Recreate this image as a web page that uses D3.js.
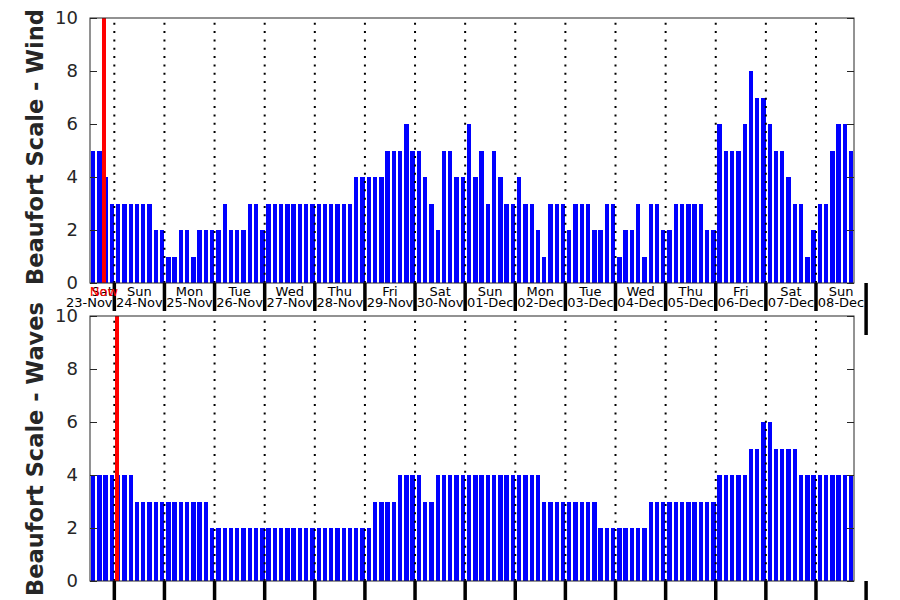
<!DOCTYPE html>
<html><head><meta charset="utf-8">
<script src="https://cdn.jsdelivr.net/npm/d3@7"></script>
<style>body{margin:0;background:#fff} svg{display:block}</style>
</head><body>
<svg id="chart" width="900" height="600"></svg>
<script>
// ---- data (3-hourly Beaufort values) ----
const windValues = [
  5,5,4,3,
  3,3,3,3,3,3,2,2,
  1,1,2,2,1,2,2,2,
  2,3,2,2,2,3,3,2,
  3,3,3,3,3,3,3,3,
  3,3,3,3,3,3,4,4,
  4,4,4,5,5,5,6,5,
  5,4,3,2,5,5,4,4,
  6,4,5,3,5,4,3,3,
  4,3,3,2,1,3,3,3,
  2,3,3,3,2,2,3,3,
  1,2,2,3,1,3,3,2,
  2,3,3,3,3,3,2,2,
  6,5,5,5,6,8,7,7,
  6,5,5,4,3,3,1,2,
  3,3,5,6,6,5
];
const waveValues = [
  4,4,4,4,
  4,4,4,3,3,3,3,3,
  3,3,3,3,3,3,3,2,
  2,2,2,2,2,2,2,2,
  2,2,2,2,2,2,2,2,
  2,2,2,2,2,2,2,2,
  2,3,3,3,3,4,4,4,
  4,3,3,4,4,4,4,4,
  4,4,4,4,4,4,4,4,
  4,4,4,4,3,3,3,3,
  3,3,3,3,3,2,2,2,
  2,2,2,2,2,3,3,3,
  3,3,3,3,3,3,3,3,
  4,4,4,4,4,5,5,6,
  6,5,5,5,5,4,4,4,
  4,4,4,4,4,4
];
const yTicks = [0, 2, 4, 6, 8, 10];
const yLabels = ["Beaufort Scale - Wind", "Beaufort Scale - Waves"];
const firstBarTime = new Date(Date.UTC(2019, 10, 23, 13, 52));
const stepHours = 3;
const nowTimes = [new Date(Date.UTC(2019, 10, 23, 19, 3)), new Date(Date.UTC(2019, 10, 24, 1, 17))];
const nowLabel = "Now";
const labelDays = d3.utcDays(new Date(Date.UTC(2019, 10, 23)), new Date(Date.UTC(2019, 11, 9)));   // Sat 23-Nov .. Sun 08-Dec
const midnights = d3.utcDays(new Date(Date.UTC(2019, 10, 24)), new Date(Date.UTC(2019, 11, 9)));   // 24-Nov .. 08-Dec
const lastTick = new Date(Date.UTC(2019, 11, 9));

// ---- layout ----
const svg = d3.select("#chart");
const left = 90, right = 854;
const x = d3.scaleUtc()
  .domain([new Date(Date.UTC(2019, 10, 24)), new Date(Date.UTC(2019, 11, 9))])
  .range([114.33, 866.1]);
const panels = [
  {values: waveValues, top: 316, bottom: 581, label: yLabels[1], labels: false, tickLen: 25, lastLen: 25, labelY: 449},
  {values: windValues, top: 18, bottom: 283, label: yLabels[0], labels: true, tickLen: 28, lastLen: 52, labelY: 147}
];
const fmtDay = d3.utcFormat("%a"), fmtDate = d3.utcFormat("%d-%b");
const axisColor = "#262626";

panels.forEach((p, pi) => {
  const nowT = p.labels ? nowTimes[0] : nowTimes[1];
  const y = d3.scaleLinear().domain([0, 10]).range([p.bottom, p.top]);
  const g = svg.append("g");
  const clipId = "clip" + pi;
  svg.append("clipPath").attr("id", clipId).append("rect")
    .attr("x", left).attr("y", p.top).attr("width", right - left).attr("height", p.bottom - p.top);

  const data = p.values.map((v, i) => ({t: d3.utcHour.offset(firstBarTime, stepHours * i), v}));
  const plot = g.append("g").attr("clip-path", `url(#${clipId})`);
  plot.selectAll("rect.bar").data(data).join("rect").attr("class", "bar")
    .attr("x", d => x(d.t) - 2.2).attr("width", 4.4)
    .attr("y", d => y(d.v)).attr("height", d => y(0) - y(d.v))
    .attr("fill", "#0000ff").attr("shape-rendering", "crispEdges");

  // dotted day separators
  plot.selectAll("line.sep").data(midnights).join("line").attr("class", "sep")
    .attr("x1", d => x(d)).attr("x2", d => x(d))
    .attr("y1", p.bottom).attr("y2", p.top)
    .attr("stroke", "#000").attr("stroke-width", 2).attr("stroke-dasharray", "2,6.33");

  // now line
  g.append("line")
    .attr("x1", x(nowT)).attr("x2", x(nowT))
    .attr("y1", p.top).attr("y2", p.bottom)
    .attr("stroke", "#ff0000").attr("stroke-width", 4);

  // box
  g.append("rect").attr("x", left).attr("y", p.top).attr("width", right - left).attr("height", p.bottom - p.top)
    .attr("fill", "none").attr("stroke", axisColor).attr("stroke-width", 1);

  // y axes (left labels, inward ticks both sides)
  const yAxisL = d3.axisLeft(y).tickValues(yTicks).tickSize(-7).tickPadding(12);
  const gl = g.append("g").attr("transform", `translate(${left},0)`).call(yAxisL);
  gl.select(".domain").remove();
  gl.selectAll("line").attr("stroke", axisColor);
  gl.selectAll("text").attr("font-family", "DejaVu Sans").attr("font-size", 18).attr("fill", axisColor)
    .attr("x", -12);
  const yAxisR = d3.axisRight(y).tickValues(yTicks).tickSize(-7).tickFormat("");
  const gr = g.append("g").attr("transform", `translate(${right},0)`).call(yAxisR);
  gr.select(".domain").remove();
  gr.selectAll("line").attr("stroke", axisColor);

  // thick day ticks below the panel
  g.selectAll("line.dtick").data(midnights).join("line").attr("class", "dtick")
    .attr("x1", d => x(d)).attr("x2", d => x(d))
    .attr("y1", p.bottom).attr("y2", p.bottom + p.tickLen)
    .attr("stroke", "#000").attr("stroke-width", 3.5);
  g.append("line")
    .attr("x1", x(lastTick)).attr("x2", x(lastTick))
    .attr("y1", p.bottom).attr("y2", p.bottom + p.lastLen)
    .attr("stroke", "#000").attr("stroke-width", 3.5);

  // day labels
  if (p.labels) {
    const lg = g.append("g").attr("font-family", "DejaVu Sans").attr("font-size", 13).attr("text-anchor", "middle");
    labelDays.forEach(d => {
      const noon = x(d3.utcHour.offset(d, 12));
      const x0 = Math.max(left, x(d)), x1 = Math.min(right, x(d3.utcDay.offset(d, 1)));
      const nameX = noon < left ? (x0 + x1) / 2 : noon;
      lg.append("text").attr("x", nameX).attr("y", p.bottom + 13).text(fmtDay(d));
      lg.append("text").attr("x", noon).attr("y", p.bottom + 23.5).text(fmtDate(d));
    });
    lg.append("text").attr("x", x(nowT)).attr("y", p.bottom + 13).attr("fill", "#ff0000").text(nowLabel);
  }

  // y label
  svg.append("text")
    .attr("transform", `translate(43,${p.labelY}) rotate(-90)`)
    .attr("text-anchor", "middle").attr("font-family", "DejaVu Sans").attr("font-weight", "bold")
    .attr("font-size", 22.5).attr("fill", axisColor).text(p.label);
});
</script>
</body></html>
